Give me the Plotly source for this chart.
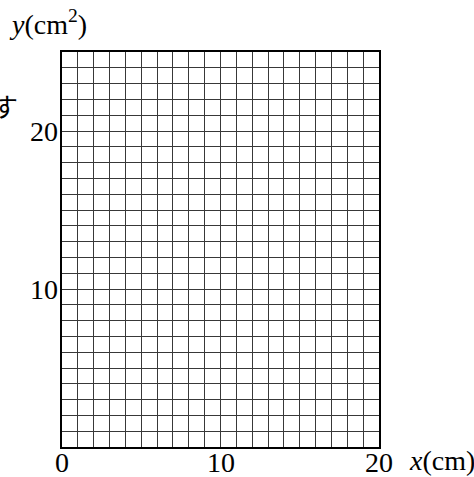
import plotly.graph_objects as go

x_ticks = [0, 10, 20]
x_tick_labels = ["0", "10", "20"]
y_ticks = [10, 20]
y_tick_labels = ["10", "20"]
x_range = [0, 20]
y_range = [0, 25]
grid_step = 1

fig = go.Figure()
fig.add_trace(go.Scatter(x=[], y=[], mode="markers", showlegend=False))

serif = "Liberation Serif"
grid_color = "#383838"
L, R, T, B = 62, 95, 52, 30
W, H = 474, 477
pw, ph = W - L - R, H - T - B

fig.update_layout(
    width=W, height=H,
    margin=dict(l=L, r=R, t=T, b=B, autoexpand=False),
    paper_bgcolor="white", plot_bgcolor="white",
    showlegend=False,
    font=dict(family=serif, size=28, color="black"),
)
fig.update_xaxes(
    range=x_range, automargin=False,
    showgrid=True, gridcolor=grid_color, gridwidth=1,
    showline=True, linecolor="black", linewidth=2, mirror=True,
    zeroline=False, ticks="", fixedrange=True,
    tickmode="array", tickvals=x_ticks, ticktext=x_tick_labels,
    showticklabels=False,
    minor=dict(dtick=grid_step, tick0=0, showgrid=True, gridcolor=grid_color, gridwidth=1),
)
fig.update_yaxes(
    range=y_range, automargin=False,
    showgrid=True, gridcolor=grid_color, gridwidth=1,
    showline=True, linecolor="black", linewidth=2, mirror=True,
    zeroline=False, ticks="", fixedrange=True,
    tickmode="array", tickvals=y_ticks, ticktext=y_tick_labels,
    showticklabels=False,
    minor=dict(dtick=grid_step, tick0=0, showgrid=True, gridcolor=grid_color, gridwidth=1),
)

# tick labels placed on the axes' data scales
for xv, lab in zip(x_ticks, x_tick_labels):
    fig.add_annotation(
        xref="x", yref="paper", x=xv, y=-(462 - (H - B)) / ph,
        xanchor="center", yanchor="middle", text=lab, showarrow=False,
        font=dict(family=serif, size=28, color="black"),
    )
for yv, lab in zip(y_ticks, y_tick_labels):
    fig.add_annotation(
        xref="paper", yref="y", x=(60 - L) / pw, y=yv,
        xanchor="right", yanchor="middle", text=lab, showarrow=False,
        font=dict(family=serif, size=28, color="black"),
    )

fig.add_annotation(
    xref="paper", yref="paper", x=(7 - L) / pw, y=1 + (T - 22) / ph,
    xanchor="left", yanchor="middle",
    text="<i>y</i>(cm<sup>2</sup>)", showarrow=False,
    font=dict(family=serif, size=28, color="black"),
)
fig.add_annotation(
    xref="paper", yref="paper", x=(407 - L) / pw, y=-(460 - (H - B)) / ph,
    xanchor="left", yanchor="middle",
    text="<i>x</i>(cm)", showarrow=False,
    font=dict(family=serif, size=28, color="black"),
)
fig.add_annotation(
    xref="paper", yref="paper", x=(20 - L) / pw, y=((H - B) - 105) / ph,
    xanchor="right", yanchor="middle",
    text="す", showarrow=False,
    font=dict(family="Noto Sans CJK JP", size=26, color="black"),
)

fig.write_html("out.html", config={"displayModeBar": False},
               post_script="document.body.style.margin='0';")
